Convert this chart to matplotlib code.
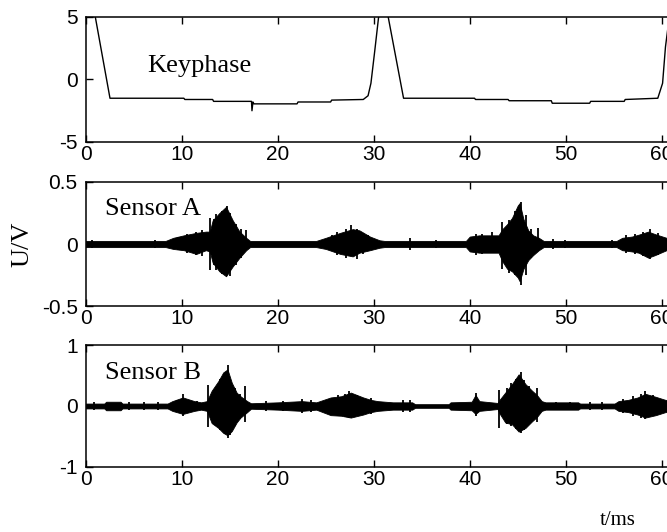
import numpy as np
import matplotlib
matplotlib.use("Agg")
import matplotlib.pyplot as plt
from matplotlib.ticker import FixedLocator, FixedFormatter

plt.rcParams['axes.unicode_minus'] = False

# keyphase trace (ms, V)
kp_t = [0.9, 2.5, 10.2, 10.3, 13.2, 13.3, 17.25, 17.3, 17.4, 17.5, 17.6, 22.0, 22.1, 25.5,
        25.6, 28.9, 29.4, 29.7, 30.1, 30.5, 30.8, 31.3, 31.5, 33.1, 40.5, 40.6, 44.0, 44.1,
        48.5, 48.6, 52.5, 52.6, 56.1, 56.2, 59.6, 60.1, 60.4, 60.8, 61.2]
kp_v = [5.3, -1.5, -1.5, -1.6, -1.6, -1.75, -1.75, -2.5, -1.8, -1.95, -1.95, -1.95, -1.8, -1.8,
        -1.65, -1.6, -1.3, -0.3, 2.3, 5.0, 6.0, 6.0, 5.0, -1.5, -1.5, -1.6, -1.6, -1.7,
        -1.7, -1.9, -1.9, -1.75, -1.75, -1.6, -1.5, -0.3, 2.6, 5.0, 6.0]

# sensor A envelope (ms, upper V, lower V)
sa_t = [0, 8.3, 9.1, 10.2, 11.5, 12.5, 12.9, 13.2, 13.9, 14.6, 15.3, 16.0, 16.7, 17.1,
        24.0, 25.0, 26.5, 27.8, 28.5, 29.6, 30.6, 31.1,
        39.6, 40.0, 41.0, 42.0, 43.0, 43.4, 43.9, 44.4, 45.0, 45.2, 45.6, 46.1, 46.6, 47.2, 47.7,
        55.3, 55.9, 56.9, 57.6, 58.6, 59.3, 60.5, 62.0, 64.0]
sa_up = [0.025, 0.025, 0.05, 0.07, 0.09, 0.1, 0.1, 0.19, 0.25, 0.3, 0.19, 0.1, 0.05, 0.025,
         0.025, 0.05, 0.09, 0.12, 0.11, 0.06, 0.03, 0.025,
         0.025, 0.06, 0.07, 0.07, 0.07, 0.12, 0.16, 0.21, 0.31, 0.33, 0.2, 0.11, 0.07, 0.05, 0.025,
         0.025, 0.05, 0.06, 0.075, 0.1, 0.08, 0.05, 0.05, 0.05]
sa_lo = [-0.025, -0.025, -0.04, -0.05, -0.08, -0.05, -0.06, -0.15, -0.22, -0.26, -0.18, -0.11, -0.05, -0.025,
         -0.025, -0.04, -0.08, -0.1, -0.07, -0.05, -0.03, -0.025,
         -0.025, -0.06, -0.07, -0.07, -0.07, -0.14, -0.2, -0.22, -0.27, -0.3, -0.2, -0.13, -0.09, -0.05, -0.025,
         -0.025, -0.05, -0.06, -0.07, -0.11, -0.09, -0.05, -0.05, -0.05]
# single oscillation peaks that stick out of the envelope
sa_spk_t = [0.6, 7.2, 9.6, 10.5, 11.0, 11.5, 12.1, 12.9, 13.3, 13.6, 14.2, 14.7, 15.0, 15.6, 16.2, 16.7,
            25.6, 26.2, 27.1, 27.6, 28.2, 28.9, 29.4, 33.8, 36.5, 40.6, 41.3, 42.3,
            43.4, 44.1, 44.7, 45.3, 45.9, 46.4, 47.1, 48.7, 49.9, 54.8, 56.3, 57.2, 58.1, 58.8, 59.6]
sa_spk_up = [0.035, 0.035, 0.06, 0.08, 0.07, 0.1, 0.11, 0.21, 0.2, 0.24, 0.27, 0.31, 0.25, 0.16, 0.12, 0.11,
             0.07, 0.1, 0.12, 0.15, 0.12, 0.09, 0.07, 0.045, 0.035, 0.08, 0.08, 0.1,
             0.18, 0.19, 0.27, 0.34, 0.23, 0.12, 0.13, 0.04, 0.035, 0.035, 0.07, 0.08, 0.1, 0.12, 0.09]
sa_spk_lo = [-0.035, -0.035, -0.05, -0.07, -0.06, -0.09, -0.1, -0.21, -0.17, -0.21, -0.24, -0.25, -0.26, -0.17, -0.11, -0.05,
             -0.06, -0.09, -0.11, -0.1, -0.12, -0.08, -0.06, -0.045, -0.035, -0.09, -0.08, -0.07,
             -0.2, -0.23, -0.25, -0.33, -0.25, -0.11, -0.05, -0.04, -0.035, -0.035, -0.07, -0.08, -0.1, -0.12, -0.09]

# sensor B envelope (ms, upper V, lower V)
sb_t = [0, 1.9, 2.1, 3.6, 3.8, 8.5, 9.0, 10.1, 11.3, 12.0, 12.6, 13.1, 13.8, 14.3, 14.75, 15.2, 15.7,
        16.1, 16.8, 17.2, 20.0, 22.5, 24.0, 25.5, 26.6, 27.6, 28.9, 29.7, 30.4, 32.0, 34.0, 34.3,
        37.8, 38.0, 40.2, 40.6, 41.0, 42.9, 43.1, 43.7, 44.4, 45.1, 45.8, 46.5, 47.0, 47.5, 47.9,
        51.3, 51.5, 55.1, 55.5, 56.5, 57.5, 58.3, 59.4, 60.4, 62.0, 64.0]
sb_up = [0.04, 0.04, 0.07, 0.07, 0.04, 0.04, 0.08, 0.14, 0.08, 0.06, 0.08, 0.25, 0.41, 0.55, 0.6, 0.38, 0.22,
         0.16, 0.08, 0.045, 0.06, 0.08, 0.06, 0.14, 0.16, 0.22, 0.14, 0.1, 0.08, 0.06, 0.06, 0.03,
         0.03, 0.06, 0.07, 0.18, 0.08, 0.05, 0.1, 0.22, 0.36, 0.52, 0.36, 0.25, 0.18, 0.08, 0.06,
         0.06, 0.04, 0.04, 0.08, 0.1, 0.14, 0.2, 0.15, 0.1, 0.1, 0.1]
sb_lo = [-0.04, -0.04, -0.07, -0.07, -0.04, -0.04, -0.08, -0.13, -0.08, -0.06, -0.08, -0.28, -0.36, -0.44, -0.48, -0.41, -0.27,
         -0.19, -0.1, -0.045, -0.06, -0.08, -0.06, -0.15, -0.16, -0.19, -0.14, -0.1, -0.08, -0.06, -0.06, -0.03,
         -0.03, -0.06, -0.07, -0.13, -0.08, -0.05, -0.12, -0.27, -0.3, -0.42, -0.36, -0.25, -0.18, -0.08, -0.06,
         -0.06, -0.04, -0.04, -0.08, -0.1, -0.14, -0.19, -0.15, -0.1, -0.1, -0.1]
sb_spk_t = [0.8, 4.5, 6.0, 7.5, 9.5, 10.1, 10.7, 11.6, 12.7, 13.5, 14.0, 14.5, 14.75, 15.0, 15.5, 16.0, 16.6,
            18.8, 20.5, 22.5, 23.5, 25.7, 26.3, 27.0, 27.4, 28.2, 29.7, 33.0, 33.8, 40.6,
            43.1, 43.9, 44.3, 44.8, 45.3, 45.7, 46.2, 47.0, 49.0, 50.5, 52.5, 53.8, 56.0, 57.0, 57.8, 58.3, 59.1]
sb_spk_up = [0.06, 0.06, 0.06, 0.06, 0.1, 0.2, 0.1, 0.09, 0.34, 0.3, 0.44, 0.5, 0.67, 0.45, 0.3, 0.2, 0.32,
             0.09, 0.09, 0.11, 0.1, 0.1, 0.18, 0.19, 0.24, 0.18, 0.13, 0.1, 0.1, 0.21,
             0.26, 0.3, 0.38, 0.44, 0.56, 0.42, 0.32, 0.3, 0.07, 0.07, 0.06, 0.06, 0.12, 0.16, 0.2, 0.24, 0.18]
sb_spk_lo = [-0.06, -0.06, -0.06, -0.06, -0.1, -0.16, -0.1, -0.09, -0.34, -0.32, -0.4, -0.46, -0.52, -0.48, -0.32, -0.22, -0.26,
             -0.09, -0.09, -0.11, -0.1, -0.1, -0.17, -0.18, -0.2, -0.16, -0.13, -0.1, -0.1, -0.16,
             -0.36, -0.3, -0.33, -0.38, -0.44, -0.4, -0.3, -0.27, -0.07, -0.07, -0.06, -0.06, -0.12, -0.16, -0.2, -0.22, -0.17]

x_ticks = [0, 10, 20, 30, 40, 50, 60]

tick_font = {'family': 'Liberation Sans', 'size': 15}
label_font = {'family': 'Liberation Serif', 'size': 19}

fig = plt.figure(figsize=(6.67, 5.32), dpi=100)
W = 614 / 667  # axes run past the right edge of the picture
ax_top = fig.add_axes([86 / 667, 0.7331, W, 0.2350])
ax_mid = fig.add_axes([86 / 667, 0.4248, W, 0.2331])
ax_bot = fig.add_axes([86 / 667, 0.1222, W, 0.2293])


def style(ax, ylim, yticks, ylabels):
    ax.set_xlim(0, 64)
    ax.set_ylim(*ylim)
    ax.xaxis.set_major_locator(FixedLocator(x_ticks))
    ax.xaxis.set_major_formatter(FixedFormatter([str(v) for v in x_ticks]))
    ax.yaxis.set_major_locator(FixedLocator(yticks))
    ax.yaxis.set_major_formatter(FixedFormatter(ylabels))
    ax.tick_params(direction='in', length=5, width=1, top=True, right=True, pad=2)
    ax.tick_params(axis='y', pad=6)
    for lab in ax.get_xticklabels() + ax.get_yticklabels():
        lab.set_fontfamily(tick_font['family'])
        lab.set_fontsize(tick_font['size'])
    for sp in ax.spines.values():
        sp.set_linewidth(1.1)


# keyphase
ax_top.plot(kp_t, kp_v, color='black', lw=1.0)
style(ax_top, (-5, 5), [-5, 0, 5], ['-5', '0', '5'])
ax_top.text(6.35, 0.6, 'Keyphase', fontdict=label_font, va='baseline', ha='left')

# sensor A
ax_mid.fill_between(sa_t, sa_lo, sa_up, color='black', lw=0.6, edgecolor='black')
ax_mid.vlines(sa_spk_t, sa_spk_lo, sa_spk_up, color='black', lw=1.3)
style(ax_mid, (-0.5, 0.5), [-0.5, 0, 0.5], ['-0.5', '0', '0.5'])
ax_mid.text(2.0, 0.234, 'Sensor A', fontdict=label_font, va='baseline', ha='left')
ax_mid.set_ylabel('U/V', fontdict=label_font, labelpad=6)

# sensor B
ax_bot.fill_between(sb_t, sb_lo, sb_up, color='black', lw=0.6, edgecolor='black')
ax_bot.vlines(sb_spk_t, sb_spk_lo, sb_spk_up, color='black', lw=1.3)
style(ax_bot, (-1, 1), [-1, 0, 1], ['-1', '0', '1'])
ax_bot.text(2.0, 0.44, 'Sensor B', fontdict=label_font, va='baseline', ha='left')

fig.text(600 / 667, 7 / 532, 't/ms', family='Liberation Serif', size=15, va='baseline', ha='left')

fig.savefig('out.png', dpi=100)
